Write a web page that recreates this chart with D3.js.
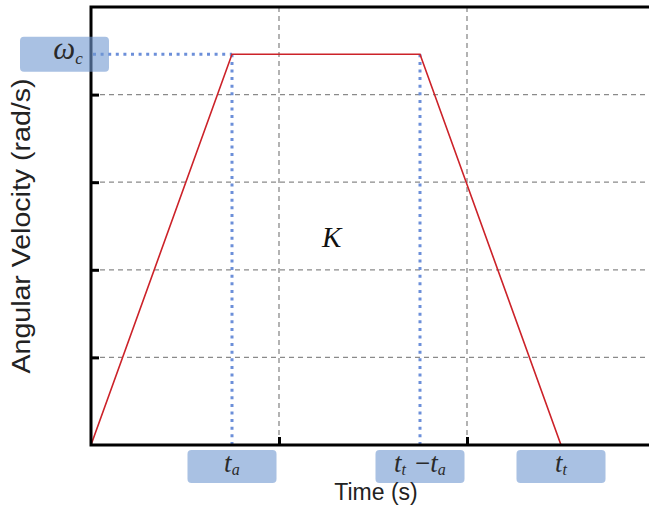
<!DOCTYPE html>
<html>
<head>
<meta charset="utf-8">
<title>Trapezoidal Velocity Profile</title>
<style>
  body { margin: 0; background: #fff; }
  svg { display: block; }
</style>
</head>
<body>
<script src="https://d3js.org/d3.v7.min.js"></script>
<script>
// data
var xTicks = [1, 2];
var yTicks = [1, 2, 3, 4];
var profileT = [0, 0.75, 1.75, 2.5];
var profileW = [0, 4.46, 4.46, 0];
var markT = [0.75, 1.75, 2.5];
var markLabels = [
  [["t", "a"]],
  [["t", "t"], ["\u2212", ""], ["t", "a"]],
  [["t", "t"]]
];
var omegaC = 4.46;
var areaLabel = {t: 1.28, w: 2.36, text: "K"};

var W = 649, H = 506;
var margin = {top: 7, left: 91, bottom: 61};
var plotRight = 655;

var svg = d3.select("body").append("svg")
    .attr("width", W)
    .attr("height", H);

var x = d3.scaleLinear().domain([0, 3]).range([margin.left, plotRight]);
var y = d3.scaleLinear().domain([0, 5]).range([H - margin.bottom, margin.top]);

var serif = "'Liberation Serif', 'DejaVu Serif', serif";
var sans = "'Liberation Sans', Arial, sans-serif";

// grid
svg.append("g").selectAll("line.vg")
    .data(xTicks).enter().append("line")
    .attr("x1", function(d){ return x(d); })
    .attr("x2", function(d){ return x(d); })
    .attr("y1", y(5)).attr("y2", y(0))
    .attr("stroke", "#8a8a8a").attr("stroke-width", 1.3)
    .attr("stroke-dasharray", "5,4");

svg.append("g").selectAll("line.hg")
    .data(yTicks).enter().append("line")
    .attr("x1", x(0)).attr("x2", x(3))
    .attr("y1", function(d){ return y(d); })
    .attr("y2", function(d){ return y(d); })
    .attr("stroke", "#8a8a8a").attr("stroke-width", 1.3)
    .attr("stroke-dasharray", "5,4");

// dotted guides
var guide = svg.append("g")
    .attr("stroke", "#6c8fd9").attr("stroke-width", 3)
    .attr("stroke-dasharray", "3,4.6").attr("fill", "none");

guide.append("line")
    .attr("x1", x(0) + 2).attr("x2", x(markT[0]))
    .attr("y1", y(omegaC)).attr("y2", y(omegaC));

guide.selectAll("line.v")
    .data(markT.slice(0, 2)).enter().append("line")
    .attr("x1", function(d){ return x(d); })
    .attr("x2", function(d){ return x(d); })
    .attr("y1", y(omegaC)).attr("y2", y(0));

// profile
var line = d3.line()
    .x(function(d){ return x(d[0]); })
    .y(function(d){ return y(d[1]); });

svg.append("path")
    .datum(d3.zip(profileT, profileW))
    .attr("d", line)
    .attr("fill", "none")
    .attr("stroke", "#cc2229")
    .attr("stroke-width", 1.6);

// axes
svg.append("g")
    .attr("transform", "translate(" + x(0) + ",0)")
    .call(d3.axisRight(y).tickValues(yTicks).tickSize(8).tickFormat(""))
    .call(function(g){
      g.select(".domain").remove();
      g.selectAll(".tick line").attr("stroke", "#000").attr("stroke-width", 3);
    });

svg.append("g")
    .attr("transform", "translate(0," + y(0) + ")")
    .call(d3.axisTop(x).tickValues(xTicks).tickSize(8).tickFormat(""))
    .call(function(g){
      g.select(".domain").remove();
      g.selectAll(".tick line").attr("stroke", "#000").attr("stroke-width", 3);
    });

svg.append("path")
    .attr("d", "M" + x(3) + "," + y(5) + "H" + x(0) + "V" + y(0) + "H" + x(3))
    .attr("fill", "none")
    .attr("stroke", "#000")
    .attr("stroke-width", 3);

// label boxes
var boxW = 89, boxH = 33;

svg.append("rect")
    .attr("x", 20).attr("y", y(omegaC) - boxH / 2 - 1)
    .attr("width", boxW).attr("height", boxH + 2)
    .attr("rx", 4)
    .attr("fill", "#6f97d0").attr("fill-opacity", 0.6);

var om = svg.append("text")
    .attr("x", 68).attr("y", y(omegaC) + 5)
    .attr("text-anchor", "middle")
    .attr("font-family", serif).attr("font-style", "italic")
    .attr("font-size", 31).attr("fill", "#2a2a2a");
om.append("tspan").text("\u03c9");
om.append("tspan").attr("font-size", 17).attr("dy", 5).text("c");

var marks = svg.append("g").selectAll("g")
    .data(markT).enter().append("g");

marks.append("rect")
    .attr("x", function(d){ return x(d) - boxW / 2; })
    .attr("y", y(0) + 5)
    .attr("width", boxW).attr("height", boxH)
    .attr("rx", 4)
    .attr("fill", "#6f97d0").attr("fill-opacity", 0.6);

marks.append("text")
    .attr("x", function(d){ return x(d) + 1; })
    .attr("y", y(0) + 27)
    .attr("text-anchor", "middle")
    .attr("font-family", serif).attr("font-style", "italic")
    .attr("font-size", 27).attr("fill", "#2a2a2a")
    .each(function(d, i){
      var t = d3.select(this);
      markLabels[i].forEach(function(p){
        if (p[0] === "\u2212") {
          t.append("tspan").attr("font-style", "normal").text(" " + p[0]);
          return;
        }
        t.append("tspan").text(p[0]);
        t.append("tspan").attr("font-size", 16).attr("dy", 3).text(p[1]);
        t.append("tspan").attr("dy", -3).text("\u200a");
      });
    });

// area label
svg.append("text")
    .attr("x", x(areaLabel.t)).attr("y", y(areaLabel.w) + 9)
    .attr("text-anchor", "middle")
    .attr("font-family", serif).attr("font-style", "italic")
    .attr("font-size", 29).attr("fill", "#111")
    .text(areaLabel.text);

// axis titles
svg.append("text")
    .attr("transform", "translate(30,226) rotate(-90)")
    .attr("text-anchor", "middle")
    .attr("font-family", sans).attr("font-size", 25)
    .attr("fill", "#222")
    .attr("textLength", 295).attr("lengthAdjust", "spacingAndGlyphs")
    .text("Angular Velocity (rad/s)");

svg.append("text")
    .attr("x", 376).attr("y", 500)
    .attr("text-anchor", "middle")
    .attr("font-family", sans).attr("font-size", 23)
    .attr("fill", "#222")
    .text("Time (s)");
</script>
</body>
</html>
